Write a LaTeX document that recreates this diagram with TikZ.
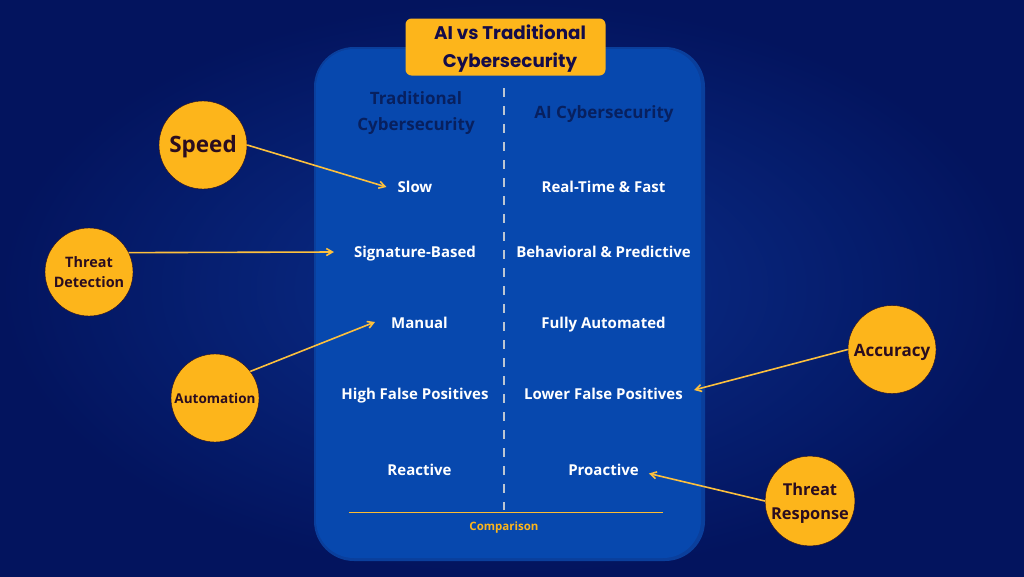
\documentclass[tikz,border=0pt]{standalone}
\usepackage{fontspec}
\setmainfont{Open Sans}
\newfontfamily\titlefont{Poppins}
\usetikzlibrary{arrows.meta}
\definecolor{amberc}{HTML}{FDB51B}
\definecolor{panelc}{HTML}{0748AE}
\definecolor{paneledge}{HTML}{0A3F9C}
\definecolor{darktxt}{HTML}{140C4A}
\definecolor{headtxt}{HTML}{07205F}
\definecolor{circtxt}{HTML}{2A0D20}
\definecolor{bginner}{HTML}{0A2F8C}
\definecolor{bgouter}{HTML}{03145E}
\tikzset{
  x=1pt,y=-1pt,
  cell/.style={text=white,font=\fontsize{15}{17}\selectfont\bfseries,inner ysep=0pt,inner xsep=11pt,text height=11pt,text depth=3pt},
  head/.style={text=headtxt,font=\fontsize{17}{26}\selectfont\bfseries,align=center,inner sep=0pt},
  disc/.style={circle,fill=amberc,draw=circtxt,line width=.4pt,minimum size=88pt,inner sep=0pt,text=circtxt,align=center},
  link/.style={draw=amberc!85!white,line width=1.6pt,-{Straight Barb[length=6pt,width=7pt]}},
}
\begin{document}
\begin{tikzpicture}
\useasboundingbox (0,0) rectangle (1024,576);
\shade[inner color=bginner,outer color=bgouter,shading=radial] (0,0) rectangle (1024,576);
\fill[paneledge,rounded corners=40pt] (314,47) rectangle (705,561);
\fill[panelc,rounded corners=38pt] (316,49) rectangle (701,558);
\node[fill=amberc,rounded corners=6pt,minimum width=200pt,minimum height=57pt,inner sep=0pt,
      text=darktxt,align=center,font=\fontsize{18.3}{28}\titlefont\bfseries] (title) at (505.5,47) {\rule{0pt}{18pt}\hspace*{9pt}AI vs Traditional\\\hspace*{9pt}Cybersecurity};
\coordinate (divtop) at (504,88);
\coordinate (divbot) at (504,510);
\draw[white!70!panelc!90!amberc,line width=1.6pt,dash pattern=on 9pt off 9pt] (divtop) -- (divbot);
\coordinate (baseL) at (349,512.5);
\coordinate (baseR) at (663,512.5);
\draw[amberc!90!white,line width=1.4pt] (baseL) -- (baseR);
\node[text=amberc,font=\fontsize{11.5}{13}\selectfont\bfseries,inner sep=0pt] (cmp) at (504,528) {Comparison};
\node[head] (h1) at (416,113.5) {Traditional\\Cybersecurity};
\node[head] (h2) at (604,114) {AI Cybersecurity};
\node[cell] (slow) at (415,188) {Slow};
\node[cell,inner xsep=20pt] (sig) at (415,253) {Signature-Based};
\node[cell,inner xsep=16pt] (manual) at (419.5,324) {Manual};
\node[cell] (hfp) at (415,395.5) {High False Positives};
\node[cell] (react) at (419.5,471.5) {Reactive};
\node[cell] (fast) at (603.5,188) {Real-Time \& Fast};
\node[cell] (behav) at (603.5,253) {Behavioral \& Predictive};
\node[cell] (auto) at (603.5,324) {Fully Automated};
\node[cell] (lfp) at (603.5,395) {Lower False Positives};
\node[cell,inner xsep=10pt] (pro) at (603.5,471.5) {Proactive};
\node[disc,font=\fontsize{22.5}{26}\selectfont\bfseries] (speed) at (203,145) {\rule{0pt}{21pt}Speed};
\node[disc,font=\fontsize{14.4}{20}\selectfont\bfseries] (tdet) at (89,272) {Threat\\Detection};
\node[disc,font=\fontsize{13.5}{16}\selectfont\bfseries] (autom) at (215,398) {Automation};
\node[disc,font=\fontsize{17}{20}\selectfont\bfseries] (acc) at (892,349.5) {\rule{0pt}{19pt}Accuracy};
\node[disc,font=\fontsize{16.4}{24}\selectfont\bfseries] (tresp) at (810,501) {\rule{0pt}{17pt}Threat\\Response};
\path[link] (speed.east) -- ([yshift=1pt]slow.west);
\path[link] (tdet.26) -- ([yshift=1pt]sig.west);
\path[link] (autom.37) -- ([yshift=2pt]manual.west);
\path[link] (acc.west) -- ([yshift=5pt]lfp.east);
\path[link] (tresp.west) -- ([yshift=-2pt,xshift=0pt]pro.east);
\end{tikzpicture}
\end{document}
